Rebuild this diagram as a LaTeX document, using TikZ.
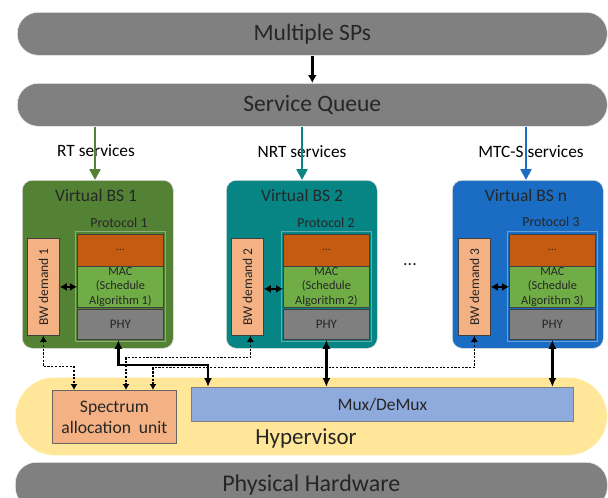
\documentclass[tikz,border=0pt]{standalone}
\usepackage{fontspec}
\setmainfont{Carlito}
\usetikzlibrary{arrows.meta,calc}
\definecolor{bargray}{HTML}{808080}
\definecolor{txt}{HTML}{262626}
\definecolor{bsgreen}{HTML}{548235}
\definecolor{bsteal}{HTML}{078484}
\definecolor{bsblue}{HTML}{1A6DC2}
\definecolor{dotsorange}{HTML}{C55A11}
\definecolor{macgreen}{HTML}{70AD47}
\definecolor{phygray}{HTML}{7F7F7F}
\definecolor{bwfill}{HTML}{F4B183}
\definecolor{hyperyellow}{HTML}{FFE699}
\definecolor{muxblue}{HTML}{8FAADC}
\definecolor{blkline}{HTML}{404040}
\begin{document}
\begin{tikzpicture}[x=1pt,y=-1pt,
  bar/.style={draw=white!85!gray, line width=0.6pt, fill=bargray, rounded corners=21pt, text=txt, inner sep=0pt, anchor=north west},
  bsbox/.style={draw=white!75!gray, line width=0.6pt, rounded corners=10pt, inner sep=0pt, anchor=north west, minimum width=151, minimum height=168},
  blk/.style={draw=blkline, line width=0.8pt, inner sep=0pt, text=txt, align=center, anchor=north west},
  stackframe/.style={draw=white, draw opacity=0.35, line width=0.6pt, inner sep=0pt, anchor=north west, minimum width=90, minimum height=110},
  dotsblk/.style={blk, fill=dotsorange, minimum width=86, minimum height=32, font=\fontsize{11}{13}\selectfont},
  macblk/.style={blk, fill=macgreen, minimum width=86, minimum height=41, font=\fontsize{12.3}{14.5}\selectfont},
  phyblk/.style={blk, fill=phygray, minimum width=86, minimum height=30, font=\fontsize{13}{15}\selectfont},
  bwblk/.style={blk, fill=bwfill, minimum width=32, minimum height=97},
  bwtext/.style={rotate=90, text=txt, font=\fontsize{13.5}{16}\selectfont},
  title/.style={text=txt, font=\fontsize{17.5}{20}\selectfont},
  proto/.style={text=txt, font=\fontsize{13.8}{16}\selectfont},
  svc/.style={text=black, font=\fontsize{17.3}{20}\selectfont},
  colarrow/.style={line width=2.4pt, -{Triangle[length=11pt,width=11pt]}},
  dbl/.style={line width=1.8pt, {Latex[length=7pt,width=8pt]}-{Latex[length=7pt,width=8pt]}},
  thick2/.style={line width=2.4pt, {Latex[length=9pt,width=8pt]}-{Latex[length=9pt,width=8pt]}},
  dconn/.style={line width=1.1pt, dash pattern=on 2.2pt off 1.5pt, {Latex[length=6pt,width=7pt]}-{Latex[length=6pt,width=7pt]}}
]
\useasboundingbox (0,0) rectangle (608,498);
\clip (0,0) rectangle (608,498);

% top bars
\node[bar, minimum width=590, minimum height=43, font=\fontsize{23.5}{26}\selectfont] (sps) at (17,12) {Multiple SPs};
\node[bar, minimum width=590, minimum height=43, font=\fontsize{23.5}{26}\selectfont] (sq) at (17,83) {Service Queue};
\draw[line width=2.4pt, -{Latex[length=8pt,width=9pt]}] (sps.south) -- (sq.north);

% hypervisor and hardware
\node[bar, fill=hyperyellow, draw=white!90!yellow, rounded corners=39pt, minimum width=592, minimum height=78] (hyp) at (15,377) {};
\node[text=txt, font=\fontsize{23}{26}\selectfont] (hyplbl) at (306,438) {Hypervisor};
\node[bar, minimum width=592, minimum height=46, font=\fontsize{24}{27}\selectfont] (hw) at (15,462) {Physical Hardware};
\node[blk, draw=gray, fill=muxblue, minimum width=382, minimum height=34, font=\fontsize{17.5}{20}\selectfont] (mux) at (191,387) {Mux/DeMux};
\node[blk, draw=gray!80!black, fill=bwfill, minimum width=124, minimum height=53, font=\fontsize{17.6}{21}\selectfont] (sau) at (52,390) {Spectrum\\allocation\ \ unit};

% service labels
\node[svc] (rt) at (96,151) {RT services};
\node[svc] (nrt) at (302,152) {NRT services};
\node[svc] (mtc) at (531,152) {MTC-S services};

% Virtual BS boxes
\node[bsbox, fill=bsgreen] (bs1) at (22,180) {};
\node[bsbox, fill=bsteal] (bs2) at (226,180) {};
\node[bsbox, fill=bsblue] (bs3) at (452,180) {};

\coordinate (ax1) at (95,0);
\coordinate (ax2) at (302,0);
\coordinate (ax3) at (526,0);
\draw[colarrow, bsgreen] (sq.south -| ax1) -- (bs1.north -| ax1);
\draw[colarrow, bsteal] (sq.south -| ax2) -- (bs2.north -| ax2);
\draw[colarrow, bsblue] (sq.south -| ax3) -- (bs3.north -| ax3);

\node[title] (t1) at (96,195) {Virtual BS 1};
\node[title] (t2) at (302,195) {Virtual BS 2};
\node[title] (t3) at (526,195) {Virtual BS n};
\node[proto] (p1) at (119,223) {Protocol 1};
\node[proto] (p2) at (326,223) {Protocol 2};
\node[proto] (p3) at (551,222) {Protocol 3};

% stacks
\node[stackframe] (sf1) at (75,231) {};
\node[stackframe] (sf2) at (281,231) {};
\node[stackframe] (sf3) at (507,231) {};

\node[dotsblk] (d1) at (77,234) {...};
\node[macblk] (mac1) at (77,266) {MAC\\(Schedule\\Algorithm 1)};
\node[phyblk] (phy1) at (77,309) {PHY};
\node[dotsblk] (d2) at (283,234) {...};
\node[macblk] (mac2) at (283,266) {MAC\\(Schedule\\Algorithm 2)};
\node[phyblk] (phy2) at (283,309) {PHY};
\node[dotsblk] (d3) at (509,234) {...};
\node[macblk] (mac3) at (509,266) {MAC\\(Schedule\\Algorithm 3)};
\node[phyblk] (phy3) at (509,309) {PHY};

\node[bwblk] (bw1) at (27,238) {};
\node[bwtext] at (bw1.center) {BW demand 1};
\node[bwblk] (bw2) at (231,238) {};
\node[bwtext] at (bw2.center) {BW demand 2};
\node[bwblk] (bw3) at (458,238) {};
\node[bwtext] at (bw3.center) {BW demand 3};

\node[text=txt, font=\fontsize{18}{20}\selectfont] (ell) at (410,265) {...};

% BW <-> MAC
\draw[dbl] (bw1.east |- mac1.center) -- (mac1.west);
\draw[dbl] ([yshift=-2pt]bw2.east |- mac2.center) -- ([yshift=-2pt]mac2.west);
\draw[dbl] (bw3.east |- mac3.center) -- (mac3.west);

% lower connectors
\draw[dconn] (bw1.south) -- ++(0,31) -| ([xshift=22pt]sau.north west);
\draw[dconn] ([xshift=3pt]bw2.south) -- ++(0,22) -| ([xshift=74pt]sau.north west);
\draw[dconn] (bw3.south) -- ++(0,32) -| ([xshift=101pt]sau.north west);
\draw[thick2] ([xshift=-2pt]phy1.south) -- ++(0,25) -| ([xshift=17pt]mux.north west);
\draw[thick2] (phy2.south) -- (phy2.south |- mux.north);
\draw[thick2] (phy3.south) -- (phy3.south |- mux.north);
\end{tikzpicture}
\end{document}
